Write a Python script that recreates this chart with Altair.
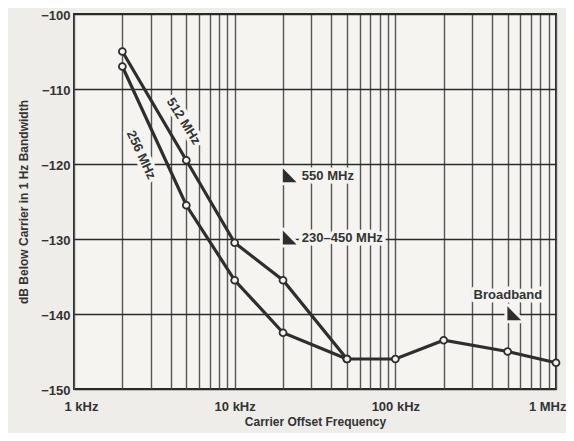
import altair as alt
import pandas as pd

# ---- data ----
freq_512 = [2, 5, 10, 20, 50]
db_512 = [-105, -119.5, -130.5, -135.5, -146]
freq_256 = [2, 5, 10, 20, 50]
db_256 = [-107, -125.5, -135.5, -142.5, -146]
freq_bb = [50, 100, 200, 500, 1000]
db_bb = [-146, -146, -143.5, -145, -146.5]

x_ticks = [1, 10, 100, 1000]
x_tick_labels = ["1 kHz", "10 kHz", "100 kHz", "1 MHz"]
x_grid = [m * d for d in [1, 10, 100] for m in range(1, 10)] + [1000]
y_ticks = [-150, -140, -130, -120, -110, -100]

line_labels = ["512 MHz", "256 MHz"]
line_label_x = [4.8, 2.62]
line_label_y = [-114.3, -118.8]
line_label_angle = [58, 65]

ann_text = ["550 MHz", "230\u2013450 MHz", "Broadband"]
ann_text_x = [26.2, 26.2, 502]
ann_text_y = [-121.6, -129.9, -137.4]
ann_tri_x = [22.0, 22.0, 550]
ann_tri_y = [-121.5, -129.8, -139.9]

rows = []
for name, fs, ds in [("512", freq_512, db_512), ("256", freq_256, db_256), ("bb", freq_bb, db_bb)]:
    for f, d in zip(fs, ds):
        rows.append({"series": name, "f": f, "db": d})
df = pd.DataFrame(rows)

lab_df = pd.DataFrame({"t": line_labels, "f": line_label_x, "db": line_label_y, "a": line_label_angle})
ann_df = pd.DataFrame({"t": ann_text, "f": ann_text_x, "db": ann_text_y})
tri_df = pd.DataFrame({"f": ann_tri_x, "db": ann_tri_y})

FONT = "Liberation Sans"
DARK = "#2e2e2e"
TXT = "#333333"
PAPER = "#f5f4f1"

label_expr = " : ".join(
    [f"datum.value == {v} ? '{l}'" for v, l in zip(x_ticks, x_tick_labels)]
) + " : ''"

xscale = alt.Scale(type="log", domain=[1, 1000], nice=False)
yscale = alt.Scale(domain=[-150, -100], nice=False)

x_enc = alt.X(
    "f:Q",
    scale=xscale,
    axis=alt.Axis(
        values=x_grid,
        labelExpr=label_expr,
        title="Carrier Offset Frequency",
        grid=True,
        gridColor="#555555",
        gridWidth=1.4,
        gridOpacity=1,
        ticks=False,
        domain=False,
        labelFont=FONT,
        labelFontWeight="bold",
        labelFontSize=13,
        labelColor=TXT,
        labelPadding=11,
        labelFlush=True,
        labelFlushOffset=10,
        labelOverlap=False,
        titleFont=FONT,
        titleFontWeight="bold",
        titleFontSize=12,
        titleColor=TXT,
        titlePadding=3,
    ),
)
y_enc = alt.Y(
    "db:Q",
    scale=yscale,
    axis=alt.Axis(
        values=y_ticks,
        labelExpr="'\u2212' + abs(datum.value)",
        title="dB Below Carrier in 1 Hz Bandwidth",
        grid=True,
        gridColor="#2a2a2a",
        gridWidth=1.6,
        gridOpacity=1,
        ticks=False,
        domain=False,
        labelFont=FONT,
        labelFontWeight="bold",
        labelFontSize=13,
        labelColor=TXT,
        labelPadding=4,
        labelOffset=1,
        labelFlush=False,
        titleFont=FONT,
        titleFontWeight="bold",
        titleFontSize=12,
        titleColor=TXT,
        titlePadding=10,
    ),
)

base = alt.Chart(df)
lines = base.mark_line(color=DARK, strokeWidth=3.2).encode(x=x_enc, y=y_enc, detail="series:N")
points = base.mark_point(
    shape="circle", filled=True, fill="#f4f3ef", stroke=DARK, strokeWidth=1.8, size=48, opacity=1
).encode(x="f:Q", y="db:Q")


def text_layers(data, **kw):
    enc = dict(x="f:Q", y="db:Q", text="t:N")
    if "a" in data.columns:
        enc["angle"] = alt.Angle("a:Q", scale=None)
    halo = alt.Chart(data).mark_text(
        font=FONT, fontWeight="bold", fontSize=13, color=PAPER, stroke=PAPER, strokeWidth=7,
        strokeJoin="round", **kw
    ).encode(**enc)
    txt = alt.Chart(data).mark_text(
        font=FONT, fontWeight="bold", fontSize=13, color=TXT, **kw
    ).encode(**enc)
    return halo, txt


lt_halo, lt = text_layers(lab_df)
a1_halo, a1 = text_layers(ann_df.iloc[:2], baseline="middle", align="left")
a2_halo, a2 = text_layers(ann_df.iloc[2:], baseline="middle", align="center")

tri_halo = alt.Chart(tri_df).mark_point(
    shape="M -1 -1 L -1 1 L 1 1 Z", filled=False, stroke=PAPER, strokeWidth=6, size=190, opacity=1,
    strokeJoin="round"
).encode(x="f:Q", y="db:Q")
tri = alt.Chart(tri_df).mark_point(
    shape="M -1 -1 L -1 1 L 1 1 Z", filled=True, color=DARK, size=190, opacity=1, strokeWidth=0
).encode(x="f:Q", y="db:Q")

chart = (
    alt.layer(lines, lt_halo, a1_halo, a2_halo, tri_halo, points, lt, a1, a2, tri)
    .properties(
        width=482,
        height=375,
        background="#eeede9",
        autosize=alt.AutoSizeParams(type="none"),
        padding={"left": 66, "top": 6, "right": 10, "bottom": 44},
    )
    .configure_view(fill=PAPER, stroke="#2a2a2a", strokeWidth=2)
)

chart.save("out.html", embed_options={"renderer": "svg", "actions": False})
